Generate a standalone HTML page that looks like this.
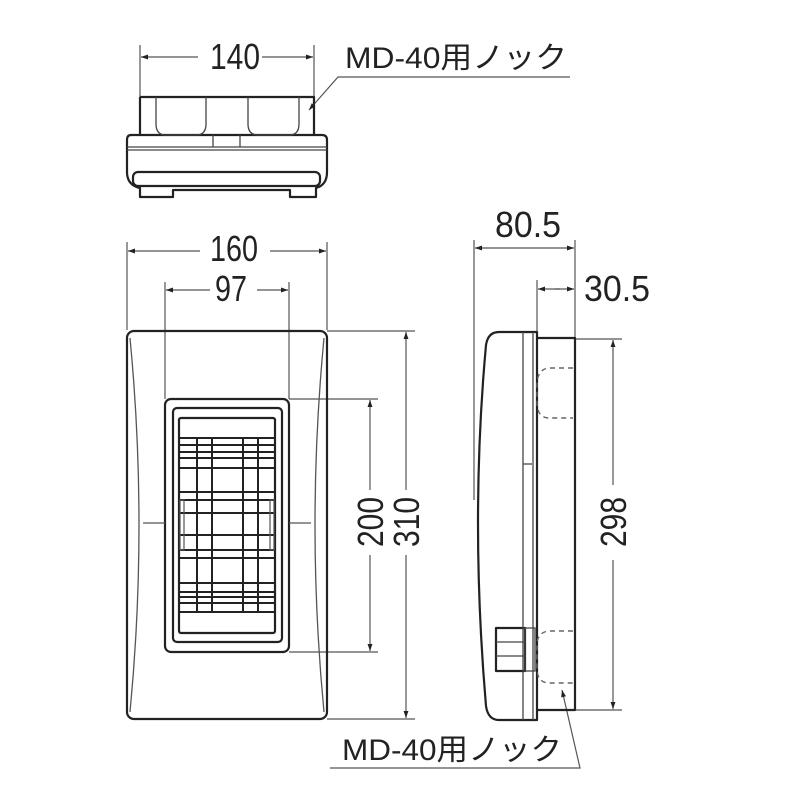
<!DOCTYPE html>
<html><head><meta charset="utf-8"><style>html,body{margin:0;padding:0;background:#fff}svg{display:block}</style></head><body>
<svg width="800" height="800" viewBox="0 0 800 800" xmlns="http://www.w3.org/2000/svg" font-family="'Liberation Sans','Noto Sans CJK JP',sans-serif">
<defs>
<marker id="a" viewBox="0 0 10 10" refX="10" refY="5" markerWidth="10" markerHeight="7" orient="auto-start-reverse" markerUnits="userSpaceOnUse"><path d="M0,1.5 L10,5 L0,8.5 Z" fill="#222"/></marker>
</defs>
<g fill="none" stroke="#555" stroke-width="1.2">
<line x1="140" y1="45" x2="140" y2="97"/><line x1="314" y1="45" x2="314" y2="97"/>
<line x1="198" y1="57" x2="141" y2="57" marker-end="url(#a)"/><line x1="262" y1="57" x2="313" y2="57" marker-end="url(#a)"/>
<polyline points="570,77 338,77 309,110" marker-end="url(#a)"/>
<line x1="127" y1="242" x2="127" y2="330"/><line x1="327" y1="242" x2="327" y2="330"/>
<line x1="200" y1="251" x2="128" y2="251" marker-end="url(#a)"/><line x1="270" y1="251" x2="326" y2="251" marker-end="url(#a)"/>
<line x1="165" y1="282" x2="165" y2="399"/><line x1="289" y1="282" x2="289" y2="399"/>
<line x1="210" y1="290" x2="166" y2="290" marker-end="url(#a)"/><line x1="257" y1="290" x2="288" y2="290" marker-end="url(#a)"/>
<line x1="327" y1="331" x2="415" y2="331"/><line x1="327" y1="719" x2="415" y2="719"/>
<line x1="289" y1="399" x2="378" y2="399"/><line x1="289" y1="652" x2="378" y2="652"/>
<line x1="370" y1="490" x2="370" y2="400" marker-end="url(#a)"/><line x1="370" y1="555" x2="370" y2="651" marker-end="url(#a)"/>
<line x1="406" y1="490" x2="406" y2="332" marker-end="url(#a)"/><line x1="406" y1="555" x2="406" y2="718" marker-end="url(#a)"/>
<line x1="474" y1="240" x2="474" y2="500"/><line x1="575" y1="240" x2="575" y2="338"/>
<line x1="537" y1="280" x2="537" y2="334"/>
<line x1="520" y1="248" x2="475" y2="248" marker-end="url(#a)"/><line x1="520" y1="248" x2="574" y2="248" marker-end="url(#a)"/>
<line x1="560" y1="289" x2="538" y2="289" marker-end="url(#a)"/><line x1="555" y1="289" x2="574" y2="289" marker-end="url(#a)"/>
<line x1="576" y1="339" x2="622" y2="339"/><line x1="576" y1="710" x2="622" y2="710"/>
<line x1="613" y1="485" x2="613" y2="340" marker-end="url(#a)"/><line x1="613" y1="560" x2="613" y2="709" marker-end="url(#a)"/>
<polyline points="330,768 580,768 562,690" marker-end="url(#a)"/>
</g>
<g fill="none" stroke="#222" stroke-width="2.2" stroke-linejoin="round">
<path d="M140,97 H314 V135"/><path d="M140,97 V135"/>
<path d="M131,135 H322 Q327,135 327,140 V172 Q327,185 316,188 V197 H290 V190 H173 V197 H140 V188 Q127,185 127,172 V140 Q127,135 131,135 Z"/>
<rect x="133" y="172" width="187" height="14" rx="5"/>
</g>
<g fill="none" stroke="#444" stroke-width="1.3">
<path d="M156,97 V124 Q156,135 166,135 H196 Q206,135 206,124 V97"/>
<path d="M248,97 V124 Q248,135 258,135 H289 Q299,135 299,124 V97"/>
<line x1="127" y1="147" x2="327" y2="147"/><line x1="127" y1="150" x2="327" y2="150"/>
<line x1="213" y1="135" x2="213" y2="147"/><line x1="240" y1="135" x2="240" y2="147"/>
</g>
<g fill="none" stroke="#222" stroke-width="2.2">
<rect x="127" y="331" width="200" height="388" rx="7"/>
<rect x="165" y="399" width="124" height="253" rx="6"/>
<rect x="173" y="408" width="109" height="234" rx="4"/>
<rect x="179" y="418" width="96" height="215" rx="2"/>
</g>
<g fill="none" stroke="#555" stroke-width="1.3">
<path d="M130,338 Q148,525 130,712"/><path d="M324,338 Q306,525 324,712"/>
<line x1="143" y1="523" x2="165" y2="523"/><line x1="289" y1="523" x2="311" y2="523"/>
</g>
<g stroke="#222" stroke-width="2">
<line x1="197" y1="438" x2="197" y2="612"/><line x1="212" y1="438" x2="212" y2="612"/>
<line x1="243" y1="438" x2="243" y2="612"/><line x1="258" y1="438" x2="258" y2="612"/>
<line x1="179" y1="438" x2="275" y2="438"/><line x1="179" y1="445" x2="275" y2="445"/>
<line x1="179" y1="452" x2="275" y2="452"/><line x1="179" y1="458" x2="275" y2="458"/>
<line x1="179" y1="468" x2="275" y2="468"/><line x1="179" y1="492" x2="275" y2="492"/>
<line x1="179" y1="500" x2="275" y2="500"/><line x1="179" y1="513" x2="275" y2="513"/>
<line x1="179" y1="535" x2="275" y2="535"/><line x1="179" y1="550" x2="275" y2="550"/>
<line x1="179" y1="558" x2="275" y2="558"/><line x1="179" y1="583" x2="275" y2="583"/>
<line x1="179" y1="592" x2="275" y2="592"/><line x1="179" y1="597" x2="275" y2="597"/>
<line x1="179" y1="603" x2="275" y2="603"/><line x1="179" y1="612" x2="275" y2="612"/>
</g>
<g fill="none" stroke="#555" stroke-width="1.2">
<rect x="180" y="500" width="4" height="50"/><rect x="270" y="500" width="4" height="50"/>
</g>
<g fill="none" stroke="#222" stroke-width="2.2" stroke-linejoin="round">
<path d="M537,332 H499 Q488,332 486,345 Q470,520 486,706 Q488,720 499,720 H537 Z"/>
<path d="M537,338 H575 V710 H537"/>
<rect x="496" y="628" width="29" height="43"/>
</g>
<g fill="none" stroke="#444" stroke-width="1.3">
<line x1="523" y1="332" x2="523" y2="720"/><line x1="533" y1="332" x2="533" y2="720"/>
<line x1="523" y1="464" x2="532" y2="464"/>
<rect x="525" y="628" width="10" height="43"/>
<line x1="496" y1="642" x2="525" y2="642"/><line x1="496" y1="656" x2="525" y2="656"/>
</g>
<g fill="none" stroke="#666" stroke-width="1.4" stroke-dasharray="5,4">
<path d="M573,368 H548 Q537,370 537,385 V402 Q537,417 548,418 H573"/>
<path d="M573,631 H548 Q537,633 537,645 V668 Q537,682 548,683 H573"/>
</g>
<g fill="#222" font-size="36">
<text x="210" y="69" textLength="50" lengthAdjust="spacingAndGlyphs">140</text>
<text x="345" y="68" font-size="30" textLength="222" lengthAdjust="spacingAndGlyphs">MD-40用ノック</text>
<text x="210" y="261" textLength="48" lengthAdjust="spacingAndGlyphs">160</text>
<text x="215" y="301" textLength="32" lengthAdjust="spacingAndGlyphs">97</text>
<text transform="translate(383,547) rotate(-90)" textLength="50" lengthAdjust="spacingAndGlyphs">200</text>
<text transform="translate(419,547) rotate(-90)" textLength="50" lengthAdjust="spacingAndGlyphs">310</text>
<text x="495" y="237" textLength="66" lengthAdjust="spacingAndGlyphs">80.5</text>
<text x="584" y="301" textLength="66" lengthAdjust="spacingAndGlyphs">30.5</text>
<text transform="translate(626,547) rotate(-90)" textLength="50" lengthAdjust="spacingAndGlyphs">298</text>
<text x="342" y="760" font-size="30" textLength="220" lengthAdjust="spacingAndGlyphs">MD-40用ノック</text>
</g>
</svg>
</body></html>
